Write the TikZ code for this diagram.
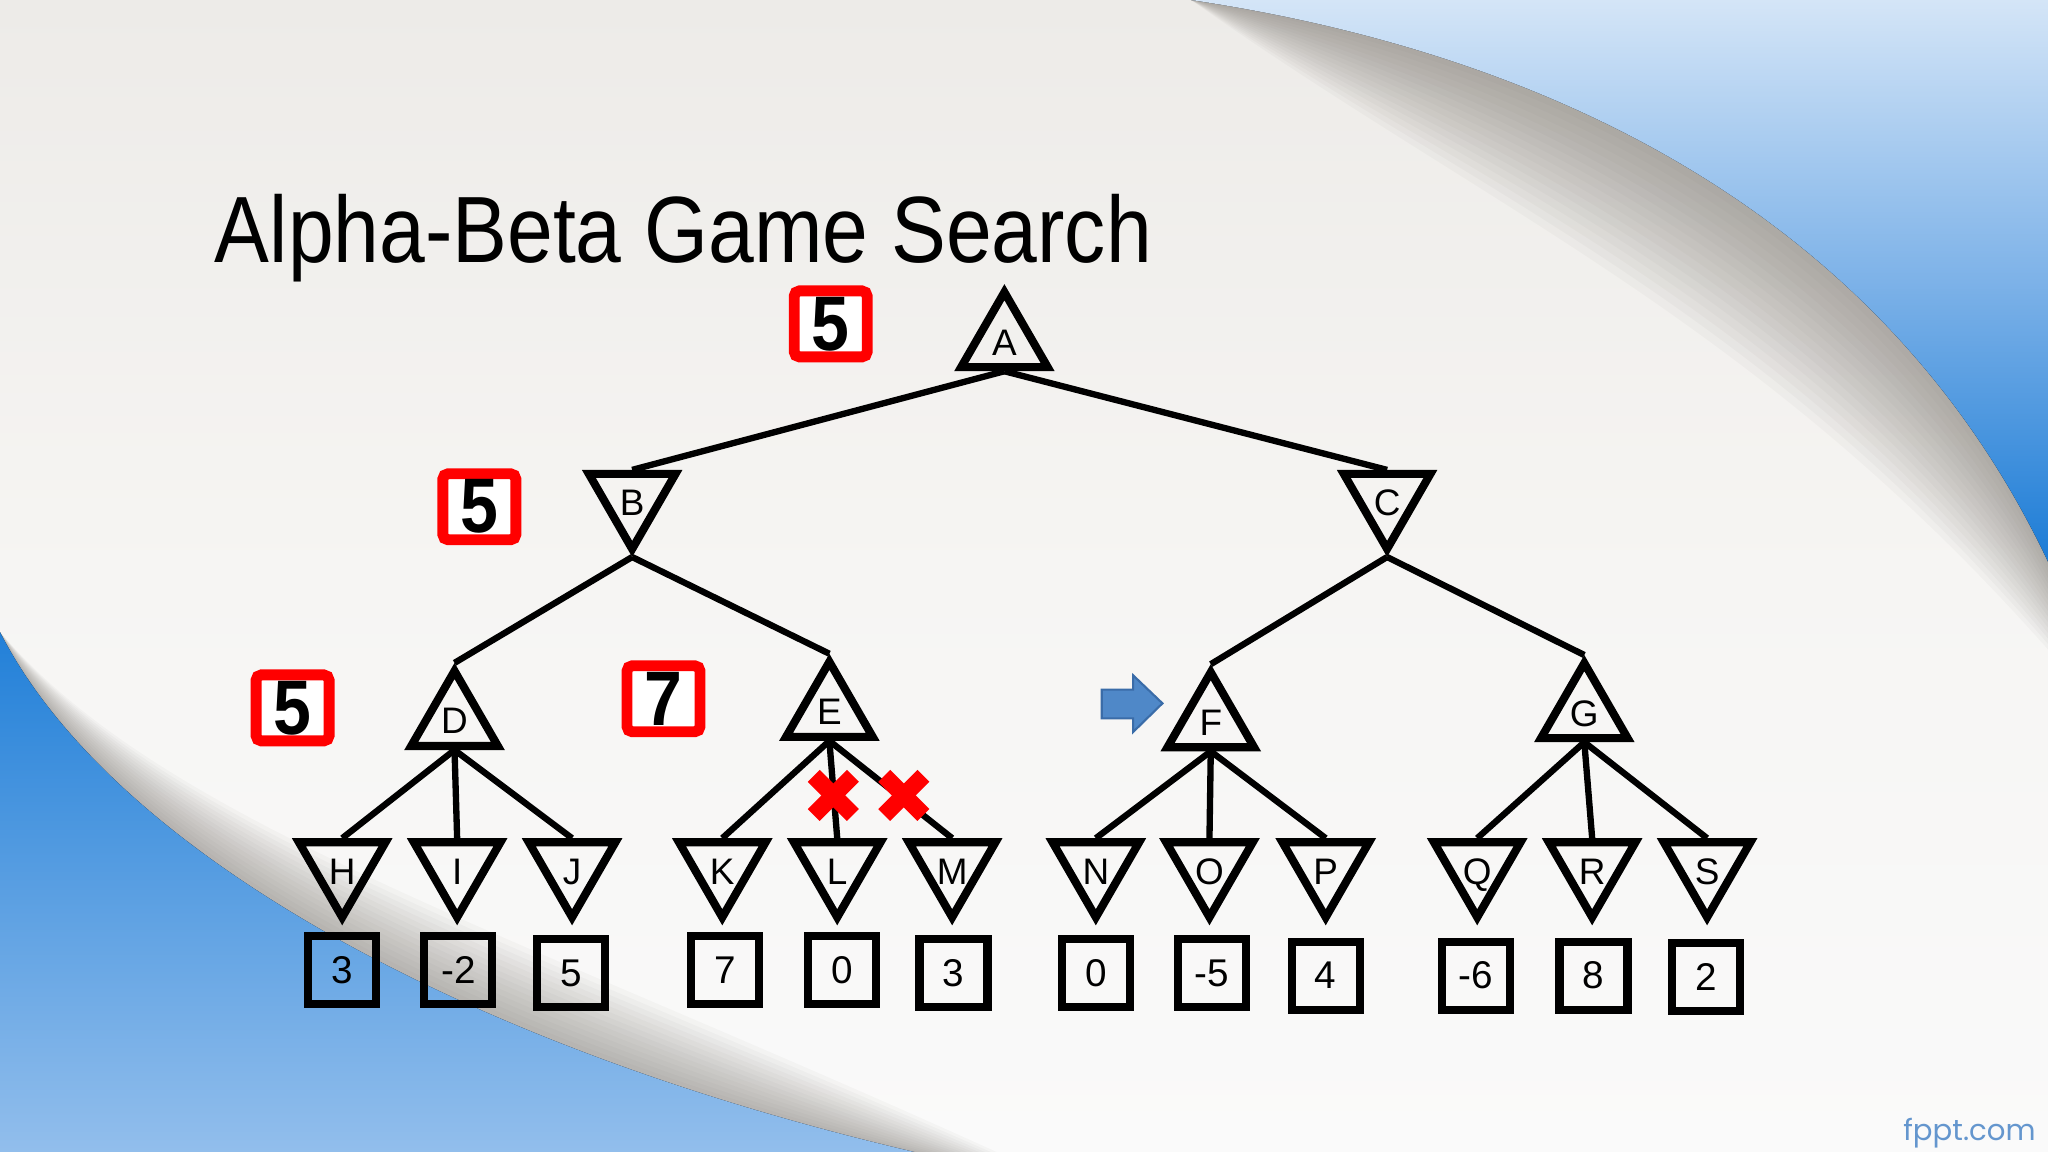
\documentclass[tikz,border=0pt]{standalone}
\usepackage{fontspec}
\setmainfont{Liberation Sans}
\newfontfamily\fpptfont{Poppins}
\usetikzlibrary{shapes.geometric}

\definecolor{bgtop}{RGB}{237,235,232}
\definecolor{bgmid}{RGB}{246,245,243}
\definecolor{bgbot}{RGB}{250,250,250}
\definecolor{bluelight}{RGB}{212,229,247}
\definecolor{bluemid}{RGB}{125,178,232}
\definecolor{bluedeep}{RGB}{28,124,214}
\definecolor{blueblA}{RGB}{34,128,216}
\definecolor{blueblB}{RGB}{146,190,236}
\definecolor{shadowgrey}{RGB}{118,113,106}
\definecolor{arrowblue}{RGB}{79,136,200}
\definecolor{arrowedge}{RGB}{58,108,168}
\definecolor{markred}{RGB}{255,0,0}
\definecolor{fpptblue}{RGB}{100,150,206}

\begin{document}
\begin{tikzpicture}[x=0.013061cm,y=-0.013061cm,
  maxnode/.style={regular polygon, regular polygon sides=3, minimum size=1cm,
    inner sep=0pt, draw=black, line width=2.3pt, text height=0.26cm, text depth=0pt,
    font=\fontsize{10.5}{11}\selectfont},
  minnode/.style={maxnode, regular polygon rotate=180, text height=0.34cm},
  leafval/.style={rectangle, draw=black, line width=2.3pt, minimum width=0.68cm,
    minimum height=0.68cm, inner sep=0pt, font=\fontsize{11}{12}\selectfont},
  scorebox/.style={rectangle, draw=markred, fill=white, line width=3.1pt,
    rounded corners=1.5pt, minimum width=0.73cm, minimum height=0.66cm,
    inner sep=0pt, font=\bfseries\fontsize{22}{24}\selectfont},
  edge/.style={line width=1.8pt, black},
  cross/.style={markred, line width=4.8pt},
  shadowlayer/.style={fill=shadowgrey, opacity=0.042},
]
\useasboundingbox (0,0) rectangle (1568,882);
% ---------- background ----------
\fill[top color=bgtop, bottom color=bgbot, middle color=bgmid] (0,0) rectangle (1568,882);
% soft shadows: nested crescents along the two curves
\foreach \k in {1,...,16}{
  \pgfmathsetmacro\d{\k*6}
  \fill[shadowlayer]
    (912,0) .. controls (1180,40) and (1440,160) .. (1568,430)
    -- (1568,{430+0.7*\d})
    .. controls ({1440-1.0*\d},{160+0.88*\d}) and ({1180-0.4*\d},{40+1.27*\d}) .. (912,0)
    -- cycle;
}
\foreach \k in {1,...,14}{
  \pgfmathsetmacro\d{\k*5}
  \fill[shadowlayer]
    (0,484) .. controls (85,650) and (350,800) .. (700,882)
    -- ({700+0.9*\d},882)
    .. controls ({350+0.45*\d},{800-1.3*\d}) and ({85+0.55*\d},{650-0.3*\d}) .. (0,484)
    -- cycle;
}
\fill[top color=bluelight, bottom color=bluedeep, middle color=bluemid]
  (912,0) .. controls (1180,40) and (1440,160) .. (1568,430) -- (1568,0) -- cycle;
\fill[top color=blueblA, bottom color=blueblB]
  (0,484) .. controls (85,650) and (350,800) .. (700,882) -- (0,882) -- cycle;

% ---------- title ----------
\node[anchor=base west, inner sep=0pt, font=\fontsize{26.8}{30}\selectfont] (title)
  at (164,200.6) {\scalebox{0.873}[1]{Alpha-Beta Game Search}};

% ---------- tree nodes ----------
\node[maxnode] (A) at (769,262) {A};
\node[minnode] (B) at (484,382) {B};
\node[minnode] (C) at (1062,382) {C};
\node[maxnode] (D) at (348,552) {D};
\node[maxnode] (E) at (635,545) {E};
\node[maxnode] (F) at (927,553) {F};
\node[maxnode] (G) at (1213,546) {G};
\foreach \n/\x in {H/262, I/350, J/438, K/553, L/641, M/729, N/839, O/926, P/1015, Q/1131, R/1219, S/1307}{
  \node[minnode] (\n) at (\x,664) {\n};
}
% leaf values
\node[leafval] (vH) at (262,743) {3};
\node[leafval] (vI) at (351,743) {-2};
\node[leafval] (vJ) at (437,745) {5};
\node[leafval] (vK) at (555,743) {7};
\node[leafval] (vL) at (645,743) {0};
\node[leafval] (vM) at (730,745) {3};
\node[leafval] (vN) at (839,745) {0};
\node[leafval] (vO) at (928,745) {-5};
\node[leafval] (vP) at (1015,747) {4};
\node[leafval] (vQ) at (1130,747) {-6};
\node[leafval] (vR) at (1220,747) {8};
\node[leafval] (vS) at (1306,748) {2};

% ---------- edges ----------
\draw[edge] (A.south) -- (B.north);
\draw[edge] (A.south) -- (C.north);
\draw[edge] (B.south) -- (D.north);
\draw[edge] (B.south) -- (E.north);
\draw[edge] (C.south) -- (F.north);
\draw[edge] (C.south) -- (G.north);
\foreach \p/\c in {D/H, D/I, D/J, E/K, E/L, E/M, F/N, F/O, F/P, G/Q, G/R, G/S}{
  \draw[edge] (\p.south) -- (\c.north);
}

% ---------- backed-up values ----------
\node[scorebox] (sA) at (636,248) {\scalebox{0.88}[1]{5}};
\node[scorebox] (sB) at (367,388) {\scalebox{0.88}[1]{5}};
\node[scorebox] (sD) at (224,542) {\scalebox{0.88}[1]{5}};
\node[scorebox] (sE) at (508,535) {\scalebox{0.88}[1]{7}};

% ---------- pruning marks ----------
\coordinate (x1) at (638,609);
\coordinate (x2) at (692,609);
\foreach \c in {x1, x2}{
  \draw[cross] (\c) ++(-15,-15) -- ++(30,30);
  \draw[cross] (\c) ++(-15,15) -- ++(30,-30);
}

% ---------- current-node arrow ----------
\filldraw[fill=arrowblue, draw=arrowedge, line width=0.6pt]
  (843.5,528) -- (867.5,528) -- (867.5,517) -- (890,538.5) -- (867.5,560.5)
  -- (867.5,550) -- (843.5,550) -- cycle;

% ---------- footer ----------
\node[anchor=base east, inner sep=0pt, text=fpptblue, font=\fpptfont\fontsize{8.3}{10}\selectfont]
  (fppt) at (1559,873) {fppt.com};
\end{tikzpicture}
\end{document}
